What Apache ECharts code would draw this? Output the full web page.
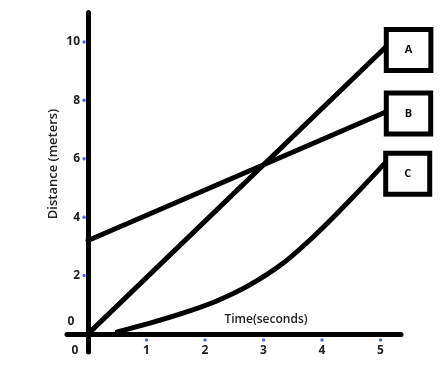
<!DOCTYPE html>
<html>
<head>
<meta charset="utf-8">
<script src="https://cdn.jsdelivr.net/npm/echarts@6/dist/echarts.min.js"></script>
<style>html,body{margin:0;padding:0;background:#fff;}#c{width:445px;height:369px;}</style>
</head>
<body>
<div id="c"></div>
<script>
// ---- data ----
var xTicks = [1, 2, 3, 4, 5];
var yTicks = [2, 4, 6, 8, 10];
var seriesA = [[0, 0], [5.09, 9.83]];
var seriesB = [[0, 3.2], [5.09, 7.6]];
var seriesC = [[0.5, 0.07], [1.06, 0.37], [1.62, 0.71], [2.19, 1.12], [2.75, 1.66], [3.32, 2.4], [3.88, 3.38], [4.44, 4.5], [5.08, 5.86]];
var seriesNames = ['A', 'B', 'C'];
var xName = 'Time(seconds)';
var yName = 'Distance (meters)';

var FONT = '"Open Sans", sans-serif';
var chart = echarts.init(document.getElementById('c'));

function boxLabel(dy) {
  return {
    show: true,
    formatter: '{a}',
    distance: 3,
    offset: [0, dy],
    color: '#111',
    fontFamily: FONT,
    fontWeight: 'bold',
    fontSize: 11,
    lineHeight: 13,
    backgroundColor: '#fff',
    borderColor: '#000',
    borderWidth: 5,
    padding: [11, 16, 12, 16]
  };
}
var lineStyle = { color: '#000', width: 5, cap: 'round' };

chart.setOption({
  animation: false,
  grid: { left: 67, right: 44, top: 12.5, bottom: 17 },
  xAxis: {
    type: 'value', min: -0.36, max: 5.35,
    axisLine: { onZero: true, lineStyle: { color: '#000', width: 5, cap: 'round' } },
    axisTick: { show: false },
    splitLine: { show: false },
    axisLabel: {
      customValues: xTicks, margin: -7, color: '#222',
      fontFamily: FONT, fontWeight: 'bold', fontSize: 12
    }
  },
  yAxis: {
    type: 'value', min: -0.62, max: 11.01,
    axisLine: { onZero: true, lineStyle: { color: '#000', width: 5, cap: 'round' } },
    axisTick: { show: false },
    splitLine: { show: false },
    axisLabel: {
      customValues: yTicks, margin: -13, color: '#222',
      fontFamily: FONT, fontWeight: 'bold', fontSize: 12
    }
  },
  graphic: [
    { type: 'text', rotation: Math.PI / 2, x: 53, y: 164,
      style: { text: yName, fill: '#222', font: '600 13px ' + FONT, align: 'center', verticalAlign: 'middle' } },
    { type: 'text', x: 266, y: 320,
      style: { text: xName, fill: '#222', font: '600 12px ' + FONT, align: 'center', verticalAlign: 'middle' } },
    { type: 'text', x: 71, y: 322,
      style: { text: '0', fill: '#222', font: 'bold 12px ' + FONT, align: 'center', verticalAlign: 'middle' } },
    { type: 'text', x: 75, y: 351,
      style: { text: '0', fill: '#222', font: 'bold 12px ' + FONT, align: 'center', verticalAlign: 'middle' } }
  ],
  series: [
    { name: seriesNames[0], type: 'line', data: seriesA, symbol: 'none', lineStyle: lineStyle,
      endLabel: boxLabel(3), z: 3 },
    { name: seriesNames[1], type: 'line', data: seriesB, symbol: 'none', lineStyle: lineStyle,
      endLabel: boxLabel(1.5), z: 3 },
    { name: seriesNames[2], type: 'line', data: seriesC, symbol: 'none', smooth: 0.3, lineStyle: lineStyle,
      endLabel: boxLabel(11), z: 3 },
    { type: 'scatter', data: xTicks.map(function (v) { return [v, 0]; }), symbol: 'circle', symbolSize: 3.5,
      symbolOffset: [0, 6], itemStyle: { color: '#3344dd' }, silent: true, z: 4 },
    { type: 'scatter', data: yTicks.map(function (v) { return [0, v]; }), symbol: 'circle', symbolSize: 3.5,
      symbolOffset: [-4, 0], itemStyle: { color: '#3344dd' }, silent: true, z: 4 }
  ]
});
</script>
</body>
</html>
